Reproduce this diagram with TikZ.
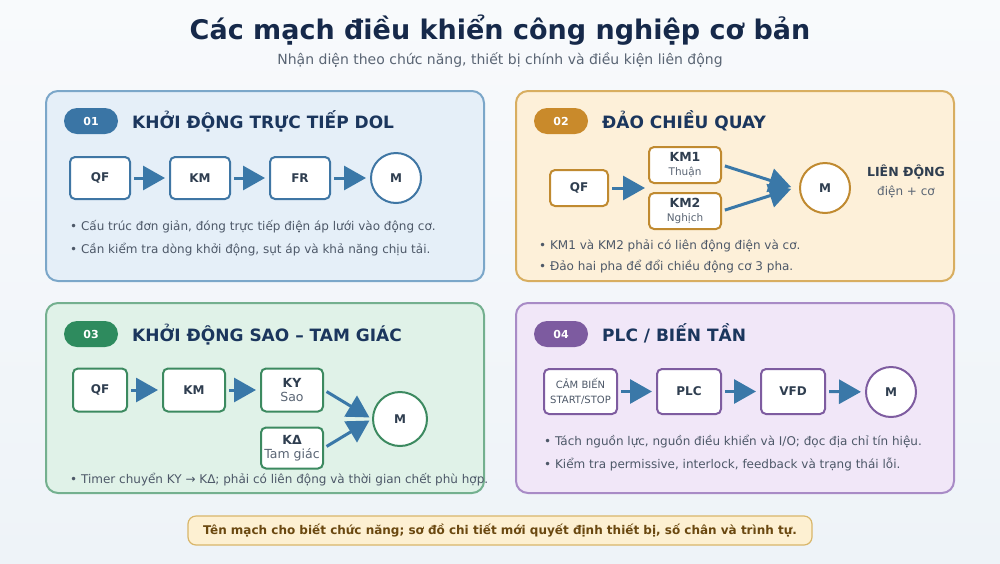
\documentclass[tikz,border=0pt]{standalone}
\usepackage{fontspec}
\setmainfont{DejaVu Sans}
\usetikzlibrary{arrows.meta}
\definecolor{bgtop}{HTML}{F8FAFC}
\definecolor{bgbot}{HTML}{EEF3F8}
\definecolor{navy}{HTML}{16294A}
\definecolor{ptitle}{HTML}{1B365D}
\definecolor{bullet}{HTML}{4D5868}
\definecolor{subt}{HTML}{5A6574}
\definecolor{nodetext}{HTML}{2F3E50}
\definecolor{arrowc}{HTML}{3A78A8}
\definecolor{pafill}{HTML}{E5EFF8}\definecolor{paborder}{HTML}{7BA7C9}\definecolor{panode}{HTML}{3F76A4}\definecolor{pabadge}{HTML}{3A75A5}
\definecolor{pbfill}{HTML}{FDF0D9}\definecolor{pbborder}{HTML}{D8AE60}\definecolor{pbnode}{HTML}{C08A30}\definecolor{pbbadge}{HTML}{C98A2B}
\definecolor{pcfill}{HTML}{E0F2E8}\definecolor{pcborder}{HTML}{74B08F}\definecolor{pcnode}{HTML}{3C8A60}\definecolor{pcbadge}{HTML}{2E8B5E}
\definecolor{pdfill}{HTML}{F1E7F8}\definecolor{pdborder}{HTML}{A88BC6}\definecolor{pdnode}{HTML}{7E5CA0}\definecolor{pdbadge}{HTML}{7D5BA0}
\definecolor{ftfill}{HTML}{FDF0D2}\definecolor{ftborder}{HTML}{D9B66A}\definecolor{fttext}{HTML}{6A4810}
\newcommand\mysubl{\fontsize{10.5}{12}\selectfont\mdseries\color{subt}}
\newcommand\mysubm{\fontsize{12.5}{13}\selectfont\mdseries\color{subt}}
\begin{document}
\begin{tikzpicture}[x=1pt,y=-1pt,
  panelbox/.style={rounded corners=12pt,line width=2pt},
  badge/.style={rounded corners=13pt,minimum width=54pt,minimum height=26pt,inner sep=0pt,text=white,font=\fontsize{11}{13}\selectfont\bfseries},
  ptext/.style={anchor=base west,inner sep=0pt,text=ptitle,font=\fontsize{17}{20}\selectfont\bfseries},
  btext/.style={anchor=base west,inner sep=0pt,text=bullet,font=\fontsize{12}{14}\selectfont},
  unitbox/.style={draw,fill=white,rounded corners=5pt,line width=2pt,inner sep=0pt,align=center,text=nodetext,font=\fontsize{12}{13}\selectfont\bfseries},
  motor/.style={draw,fill=white,circle,line width=2pt,inner sep=0pt,text=nodetext,font=\fontsize{12}{13}\selectfont\bfseries},
  flow/.style={draw=arrowc,line width=3pt,-{Triangle[length=22pt,width=24pt]},shorten <=3pt,shorten >=4pt}
]
\useasboundingbox (0,0) rectangle (1000,563);
\shade[top color=bgtop,bottom color=bgbot] (0,0) rectangle (1000,563);

% title
\node[anchor=base,inner sep=0pt,text=navy,font=\fontsize{27}{30}\selectfont\bfseries] (title) at (500,39) {Các mạch điều khiển công nghiệp cơ bản};
\node[anchor=base,inner sep=0pt,text=subt,font=\fontsize{14}{16}\selectfont] (subtitle) at (500,64) {Nhận diện theo chức năng, thiết bị chính và điều kiện liên động};

% ---------- panel 1
\draw[panelbox,fill=pafill,draw=paborder] (46,91) rectangle (484,281);
\node[badge,fill=pabadge] (b1) at (91,121) {01};
\node[ptext] (t1) at (132,128) {KHỞI ĐỘNG TRỰC TIẾP DOL};
\node[unitbox,draw=panode,minimum width=60pt,minimum height=42pt] (aqf) at (100,178) {QF};
\node[unitbox,draw=panode,minimum width=60pt,minimum height=42pt] (akm) at (200,178) {KM};
\node[unitbox,draw=panode,minimum width=60pt,minimum height=42pt] (afr) at (300,178) {FR};
\node[motor,draw=panode,minimum size=50pt] (am) at (396,178) {M};
\draw[flow] (aqf) -- (akm);
\draw[flow] (akm) -- (afr);
\draw[flow] (afr) -- (am);
\node[btext] (a1) at (70,230) {• Cấu trúc đơn giản, đóng trực tiếp điện áp lưới vào động cơ.};
\node[btext] (a2) at (70,253) {• Cần kiểm tra dòng khởi động, sụt áp và khả năng chịu tải.};

% ---------- panel 2
\draw[panelbox,fill=pbfill,draw=pbborder] (516,91) rectangle (954,281);
\node[badge,fill=pbbadge] (b2) at (561,121) {02};
\node[ptext] (t2) at (602,128) {ĐẢO CHIỀU QUAY};
\node[unitbox,draw=pbnode,minimum width=58pt,minimum height=36pt] (bqf) at (579,188) {QF};
\node[unitbox,draw=pbnode,minimum width=72pt,minimum height=36pt,font=\fontsize{12.5}{12}\selectfont\bfseries] (bkma) at (685,165) {KM1\\[2pt]{\mysubl Thuận}};
\node[unitbox,draw=pbnode,minimum width=72pt,minimum height=36pt,font=\fontsize{12.5}{12}\selectfont\bfseries] (bkmb) at (685,211) {KM2\\[2pt]{\mysubl Nghịch}};
\node[motor,draw=pbnode,minimum size=50pt] (bm) at (825,188) {M};
\coordinate (bsplit) at (649,188);
\coordinate (bjoin) at (794,188);
\draw[flow,shorten >=4pt] (bqf.east) -- (bsplit);
\draw[flow,shorten <=3pt,shorten >=3pt] (bkma.east) -- (bjoin);
\draw[flow,shorten <=3pt,shorten >=3pt] (bkmb.east) -- (bjoin);
\node[inner sep=0pt,text=nodetext,font=\fontsize{12.5}{14}\selectfont\bfseries] (bl1) at (906,172) {LIÊN ĐỘNG};
\node[inner sep=0pt,text=subt,font=\fontsize{12}{14}\selectfont] (bl2) at (906,192) {điện + cơ};
\node[btext] (b21) at (539,249) {• KM1 và KM2 phải có liên động điện và cơ.};
\node[btext] (b22) at (539,270) {• Đảo hai pha để đổi chiều động cơ 3 pha.};

% ---------- panel 3
\draw[panelbox,fill=pcfill,draw=pcborder] (46,303) rectangle (484,493);
\node[badge,fill=pcbadge] (b3) at (91,334) {03};
\node[ptext] (t3) at (132,341) {KHỞI ĐỘNG SAO – TAM GIÁC};
\node[unitbox,draw=pcnode,minimum width=54pt,minimum height=43pt] (cqf) at (100,390) {QF};
\node[unitbox,draw=pcnode,minimum width=62pt,minimum height=43pt] (ckm) at (194,390) {KM};
\node[unitbox,draw=pcnode,minimum width=62pt,minimum height=43pt,font=\fontsize{12.5}{12}\selectfont\bfseries] (cky) at (292,390) {KY\\[2pt]{\mysubm Sao}};
\node[unitbox,draw=pcnode,minimum width=62pt,minimum height=41pt,font=\fontsize{12.5}{12}\selectfont\bfseries] (ckd) at (292,448) {KΔ\\[2pt]{\mysubm Tam giác}};
\node[motor,draw=pcnode,minimum size=54pt] (cm) at (400,419) {M};
\coordinate (cjoin) at (372,419);
\draw[flow] (cqf) -- (ckm);
\draw[flow] (ckm) -- (cky);
\draw[flow,shorten <=3pt,shorten >=3pt] (cky.east) -- (cjoin);
\draw[flow,shorten <=3pt,shorten >=3pt] (ckd.east) -- (cjoin);
\node[btext] (c1) at (70,483) {• Timer chuyển KY → KΔ; phải có liên động và thời gian chết phù hợp.};

% ---------- panel 4
\draw[panelbox,fill=pdfill,draw=pdborder] (516,303) rectangle (954,493);
\node[badge,fill=pdbadge] (b4) at (561,334) {04};
\node[ptext] (t4) at (602,341) {PLC / BIẾN TẦN};
\node[unitbox,draw=pdnode,minimum width=73pt,minimum height=45pt,font=\fontsize{10}{15}\selectfont\mdseries,text=bullet] (dsen) at (580.5,391.5) {CẢM BIẾN\\START/STOP};
\node[unitbox,draw=pdnode,minimum width=64pt,minimum height=45pt] (dplc) at (689,391.5) {PLC};
\node[unitbox,draw=pdnode,minimum width=64pt,minimum height=45pt] (dvfd) at (793,391.5) {VFD};
\node[motor,draw=pdnode,minimum size=50pt] (dm) at (891,392) {M};
\draw[flow] (dsen) -- (dplc);
\draw[flow] (dplc) -- (dvfd);
\draw[flow] (dvfd) -- (dm);
\node[btext] (d1) at (544,445) {• Tách nguồn lực, nguồn điều khiển và I/O; đọc địa chỉ tín hiệu.};
\node[btext] (d2) at (544,468) {• Kiểm tra permissive, interlock, feedback và trạng thái lỗi.};

% ---------- footer
\draw[rounded corners=8pt,line width=1.2pt,fill=ftfill,draw=ftborder] (188,516) rectangle (812,545);
\node[inner sep=0pt,text=fttext,font=\fontsize{12}{13}\selectfont\bfseries] (foot) at (500,531) {Tên mạch cho biết chức năng; sơ đồ chi tiết mới quyết định thiết bị, số chân và trình tự.};
\end{tikzpicture}
\end{document}
